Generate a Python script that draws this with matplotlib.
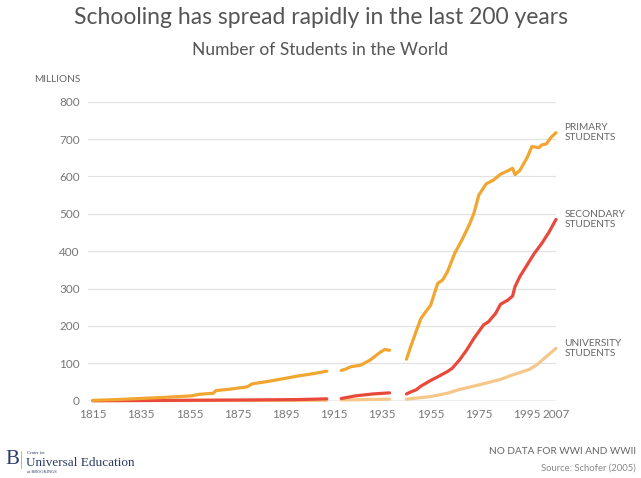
import numpy as np
import matplotlib
matplotlib.use("Agg")
import matplotlib.pyplot as plt
from matplotlib.lines import Line2D

nan = np.nan

# values in millions of students, nan marks the war gaps
primary_years = [1815, 1825, 1835, 1845, 1856, 1859, 1865, 1866, 1872, 1879, 1881, 1888, 1894,
                 1900, 1906, 1912, 1915, 1918, 1920, 1922, 1926, 1930, 1934, 1936, 1938, 1941,
                 1945, 1947, 1949, 1951, 1953, 1955, 1957, 1958, 1960, 1962, 1965, 1968, 1971,
                 1973, 1975, 1978, 1981, 1984, 1987, 1989, 1990, 1992, 1995, 1997, 2000, 2001,
                 2003, 2005, 2007]
primary_vals = [1, 3, 6, 9, 13, 17, 20, 27, 31, 37, 45, 52, 59,
                66, 72, 79, nan, 81, 85, 91, 95, 109, 129, 137, 135, nan,
                111, 149, 185, 220, 238, 255, 295, 314, 323, 345, 394, 430, 470,
                502, 550, 580, 590, 606, 615, 622, 605, 616, 650, 680, 677, 684,
                687, 705, 717]

secondary_years = [1815, 1850, 1880, 1900, 1912, 1915, 1918, 1924, 1931, 1938, 1941,
                   1945, 1947, 1949, 1951, 1955, 1958, 1962, 1964, 1967, 1970, 1973, 1977,
                   1979, 1982, 1984, 1987, 1989, 1990, 1992, 1995, 1998, 2001, 2004, 2007]
secondary_vals = [0, 1, 2, 3, 5, nan, 6, 13, 18, 21, nan,
                  18, 24, 29, 39, 54, 64, 78, 87, 109, 136, 167, 203,
                  211, 234, 258, 269, 280, 305, 332, 363, 394, 420, 450, 485]

university_years = [1815, 1860, 1912, 1915, 1918, 1938, 1941, 1945, 1955, 1962, 1967, 1973,
                    1978, 1984, 1989, 1992, 1996, 1999, 2003, 2007]
university_vals = [0, 0.5, 1, nan, 2, 4, nan, 4, 11, 20, 30, 39,
                   47, 57, 69, 75, 84, 96, 118, 140]

series = [
    ("UNIVERSITY\nSTUDENTS", university_years, university_vals, "#F5C88A"),
    ("SECONDARY\nSTUDENTS", secondary_years, secondary_vals, "#E9493B"),
    ("PRIMARY\nSTUDENTS", primary_years, primary_vals, "#F0A630"),
]
x_ticks = [1815, 1835, 1855, 1875, 1895, 1915, 1935, 1955, 1975, 1995, 2007]
y_ticks = [0, 100, 200, 300, 400, 500, 600, 700, 800]

plt.rcParams["font.family"] = ["Lato", "DejaVu Sans"]
text_col = "#666666"

fig = plt.figure(figsize=(6.41, 4.78), dpi=100)
ax = fig.add_axes([88 / 641, 1 - 400.7 / 478, 468 / 641, 299 / 478])

for label, yrs, vals, col in series:
    ax.plot(yrs, vals, color=col, lw=2.3, solid_capstyle="round", clip_on=False, zorder=3)
    ax.annotate(label, (yrs[-1], vals[-1]), xytext=(6, 0), textcoords="offset points",
                va="center", ha="left", fontsize=7.3, color=text_col, linespacing=1.2,
                annotation_clip=False)

ax.set_xlim(1813, 2007)
ax.set_ylim(0, 800)
ax.set_xticks(x_ticks)
ax.set_yticks(y_ticks)
ax.tick_params(length=0, labelsize=8.5, labelcolor="#777777")
ax.tick_params(axis="y", pad=6)
ax.tick_params(axis="x", pad=6)
for s in ax.spines.values():
    s.set_visible(False)
for v in y_ticks[1:]:
    ax.axhline(v, color="#E2E2E2", lw=0.9, zorder=1)
ax.axhline(0, color="#A8A8A8", lw=1.0, zorder=1)

ax.text(-0.015, 1.075, "MILLIONS", transform=ax.transAxes, ha="right", va="center",
        fontsize=7.3, color=text_col)

fig.text(0.5, 1 - 18 / 478, "Schooling has spread rapidly in the last 200 years",
         ha="center", va="center", fontsize=16.5, color="#555555")
fig.text(0.5, 1 - 50 / 478, "Number of Students in the World",
         ha="center", va="center", fontsize=12.5, color="#555555")

fig.text(636 / 641, 1 - 452 / 478, "NO DATA FOR WWI AND WWII",
         ha="right", va="center", fontsize=7.2, color="#666666")
fig.text(636 / 641, 1 - 468 / 478, "Source: Schofer (2005)",
         ha="right", va="center", fontsize=6.8, color="#888888")

# Brookings logo as text
navy = "#2A3B6A"
fig.text(5 / 641, 1 - 459 / 478, "B", ha="left", va="center", fontsize=15,
         family="Liberation Serif", color=navy)
fig.add_artist(Line2D([21 / 641, 21 / 641], [1 - 451 / 478, 1 - 468 / 478],
                      color="#AAAAAA", lw=0.6))
fig.text(27 / 641, 1 - 453 / 478, "Center for", ha="left", va="center", fontsize=3.2,
         family="Liberation Serif", color=navy)
fig.text(26 / 641, 1 - 462.5 / 478, "Universal Education", ha="left", va="center", fontsize=9.5,
         family="Liberation Serif", color=navy)
fig.text(27 / 641, 1 - 472 / 478, "at BROOKINGS", ha="left", va="center", fontsize=3.2,
         family="Liberation Serif", color=navy)

fig.savefig("out.png", dpi=100)
